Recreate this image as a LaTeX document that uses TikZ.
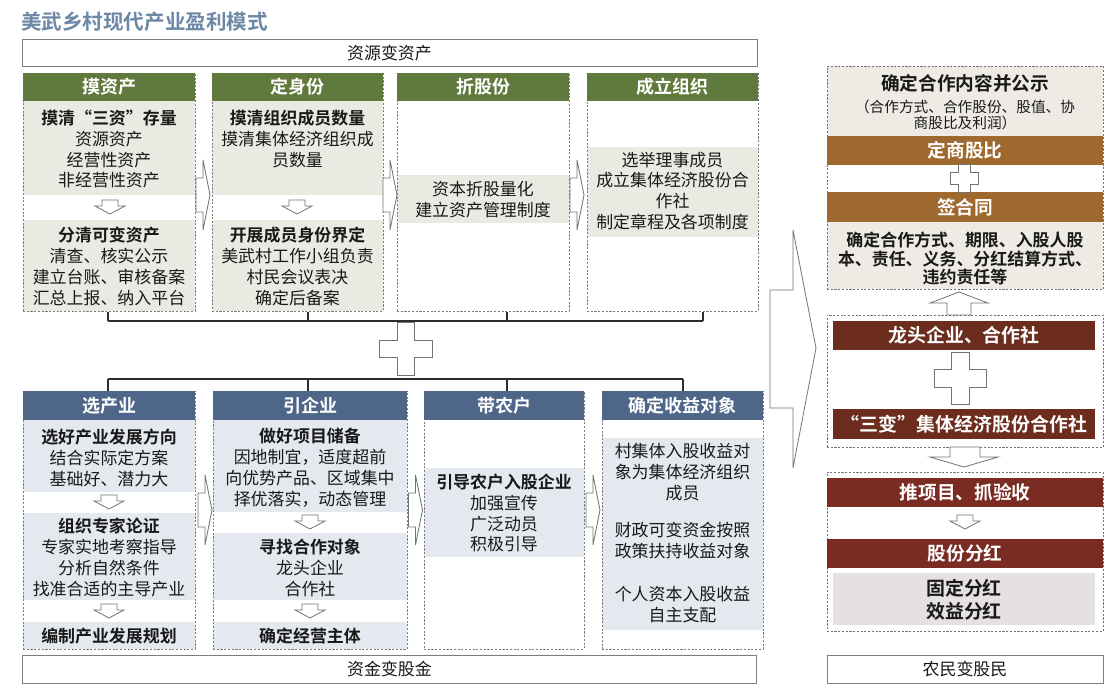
\documentclass[tikz,border=0pt]{standalone}
\usepackage{fontspec}
\setmainfont{Noto Sans CJK SC}[BoldFont={Noto Sans CJK SC Bold}]
\usetikzlibrary{positioning}
\usepackage{xcolor}
\definecolor{hdgreen}{RGB}{96,121,60}
\definecolor{hdblue}{RGB}{78,103,136}
\definecolor{bandgreen}{RGB}{233,235,226}
\definecolor{bandblue}{RGB}{228,232,239}
\definecolor{barbrown}{RGB}{158,104,46}
\definecolor{bardark}{RGB}{108,44,30}
\definecolor{barred}{RGB}{122,44,34}
\definecolor{beige}{RGB}{238,235,228}
\definecolor{graypink}{RGB}{229,225,224}
\definecolor{titleblue}{RGB}{108,136,165}
\definecolor{linegray}{RGB}{125,125,125}
\definecolor{arrgray}{RGB}{115,115,115}
\definecolor{brkgray}{RGB}{45,45,45}
\definecolor{textdark}{RGB}{25,25,25}
\newlength\pxu
\setlength\pxu{0.75pt}
\newcommand\bodyfont{\fontsize{12.7}{15.7}\selectfont}
\newcommand\hdrfont{\fontsize{13.5}{15}\selectfont\bfseries}
\newcommand\barfont{\fontsize{14}{16}\selectfont\bfseries}
% small outlined arrows and crosses
\newcommand\rarr[2]{\begin{scope}[shift={(#1,#2)}]
  \draw[outline] (-7,-17) -- (0,-17) -- (0,-35) -- (7,0) -- (0,35) -- (0,17) -- (-7,17) -- cycle;
\end{scope}}
\newcommand\darr[2]{\begin{scope}[shift={(#1,#2)}]
  \draw[outline] (-8,-7) -- (8,-7) -- (8,-1) -- (15,-1) -- (0,7) -- (-15,-1) -- (-8,-1) -- cycle;
\end{scope}}
\newcommand\plusshape[4]{\begin{scope}[shift={(#1,#2)}]
  \draw[outline] (-#4,-#3) -- (#4,-#3) -- (#4,-#4) -- (#3,-#4) -- (#3,#4) -- (#4,#4) -- (#4,#3)
    -- (-#4,#3) -- (-#4,#4) -- (-#3,#4) -- (-#3,-#4) -- (-#4,-#4) -- cycle;
\end{scope}}

\begin{document}
\begin{tikzpicture}[x=0.75pt, y=-0.75pt,
  txt/.style={font=\bodyfont, align=center, text=textdark, inner sep=0pt},
  hdr/.style={font=\hdrfont, text=white, inner sep=0pt, minimum height=28\pxu},
  barbox/.style={font=\barfont, text=white, inner sep=0pt, minimum height=29\pxu},
  colframe/.style={draw=linegray, dash pattern=on 1.6pt off 1.2pt, line width=0.75pt, inner sep=0pt},
  banner/.style={draw=linegray, line width=0.6pt, fill=white, inner sep=0pt, minimum height=27\pxu, font=\bodyfont, text=textdark},
  outline/.style={draw=arrgray, line width=0.6pt, fill=white},
  brk/.style={draw=brkgray, line width=0.9pt}
]
\useasboundingbox (0,0) rectangle (1108,694);
\fill[white] (0,0) rectangle (1108,694);

\node[anchor=west, inner sep=0pt, font=\fontsize{15.4}{17}\selectfont\bfseries, text=titleblue] (title) at (21,22) {美武乡村现代产业盈利模式};

% ---- 资源变资产 ----
\node[banner, minimum width=735\pxu] (topban) at (389.5,53) {资源变资产};

\fill[bandgreen] (23,101) rectangle (195,195);
\fill[bandgreen] (23,220) rectangle (195,311);
\fill[bandgreen] (212,101) rectangle (383,195);
\fill[bandgreen] (212,220) rectangle (383,311);
\fill[bandgreen] (397,175) rectangle (569,223);
\fill[bandgreen] (587,147) rectangle (758,237);

\node[colframe, minimum width=172\pxu, minimum height=238\pxu] (tc1) at (109,192) {};
\node[colframe, minimum width=171\pxu, minimum height=238\pxu] (tc2) at (297.5,192) {};
\node[colframe, minimum width=172\pxu, minimum height=238\pxu] (tc3) at (483,192) {};
\node[colframe, minimum width=171\pxu, minimum height=238\pxu] (tc4) at (672.5,192) {};

\node[hdr, fill=hdgreen, minimum width=172\pxu] (th1) at (109,87) {摸资产};
\node[hdr, fill=hdgreen, minimum width=171\pxu] (th2) at (297.5,87) {定身份};
\node[hdr, fill=hdgreen, minimum width=172\pxu] (th3) at (483,87) {折股份};
\node[hdr, fill=hdgreen, minimum width=171\pxu] (th4) at (672.5,87) {成立组织};

\node[txt] (ta1) at (109,149) {\textbf{摸清“三资”存量}\\资源资产\\经营性资产\\非经营性资产};
\node[txt] (tb1) at (109,266.5) {\textbf{分清可变资产}\\清查、核实公示\\建立台账、审核备案\\汇总上报、纳入平台};
\node[txt] (ta2) at (297.5,139) {\textbf{摸清组织成员数量}\\摸清集体经济组织成\\员数量};
\node[txt] (tb2) at (297.5,266.5) {\textbf{开展成员身份界定}\\美武村工作小组负责\\村民会议表决\\确定后备案};
\node[txt] (ta3) at (483,200) {资本折股量化\\建立资产管理制度};
\node[txt] (ta4) at (672.5,191) {选举理事成员\\成立集体经济股份合\\作社\\制定章程及各项制度};

\darr{110}{207}
\darr{297}{207}
\rarr{203}{195}
\rarr{390}{195}
\rarr{577}{195}

% brackets and cross
\coordinate (tk1) at (108,321);
\coordinate (tk2) at (308,321);
\coordinate (tk3) at (507,321);
\coordinate (tk4) at (703,321);
\coordinate (bk1) at (108,379);
\coordinate (bk2) at (308,379);
\coordinate (bk3) at (507,379);
\coordinate (bk4) at (683,379);
\draw[brk] (tk1) -- (tk4);
\draw[brk] (bk1) -- (bk4);
\foreach \i in {1,...,4} {
  \draw[brk] (tk\i |- tc\i.south) -- (tk\i);
  \draw[brk] (bk\i) -- (bk\i |- 0,391);
}
\plusshape{405.5}{349}{26.5}{8.5}

% ---- 资金变股金 ----
\fill[bandblue] (23,420) rectangle (195,492);
\fill[bandblue] (23,513) rectangle (195,600);
\fill[bandblue] (23,622) rectangle (195,649);
\fill[bandblue] (213,420) rectangle (407,512);
\fill[bandblue] (213,533) rectangle (407,600);
\fill[bandblue] (213,622) rectangle (407,649);
\fill[bandblue] (424,468) rectangle (584,557);
\fill[bandblue] (602,438) rectangle (763,630);

\node[colframe, minimum width=172\pxu, minimum height=258\pxu] (bc1) at (109,520) {};
\node[colframe, minimum width=194\pxu, minimum height=258\pxu] (bc2) at (310,520) {};
\node[colframe, minimum width=160\pxu, minimum height=258\pxu] (bc3) at (504,520) {};
\node[colframe, minimum width=161\pxu, minimum height=258\pxu] (bc4) at (682.5,520) {};

\node[hdr, fill=hdblue, minimum width=172\pxu, minimum height=29\pxu] (bh1) at (109,405.5) {选产业};
\node[hdr, fill=hdblue, minimum width=194\pxu, minimum height=29\pxu] (bh2) at (310,405.5) {引企业};
\node[hdr, fill=hdblue, minimum width=160\pxu, minimum height=29\pxu] (bh3) at (504,405.5) {带农户};
\node[hdr, fill=hdblue, minimum width=161\pxu, minimum height=29\pxu] (bh4) at (682.5,405.5) {确定收益对象};

\node[txt] (ba1) at (109,458) {\textbf{选好产业发展方向}\\结合实际定方案\\基础好、潜力大};
\node[txt] (bb1) at (109,557.5) {\textbf{组织专家论证}\\专家实地考察指导\\分析自然条件\\找准合适的主导产业};
\node[txt] (bd1) at (109,636) {\textbf{编制产业发展规划}};
\node[txt] (ba2) at (310,467.5) {\textbf{做好项目储备}\\因地制宜，适度超前\\向优势产品、区域集中\\择优落实，动态管理};
\node[txt] (bb2) at (310,568) {\textbf{寻找合作对象}\\龙头企业\\合作社};
\node[txt] (bd2) at (310,636) {\textbf{确定经营主体}};
\node[txt] (ba3) at (504,513) {\textbf{引导农户入股企业}\\加强宣传\\广泛动员\\积极引导};
\node[txt] (ba4) at (682.5,472.5) {村集体入股收益对\\象为集体经济组织\\成员};
\node[txt] (bb4) at (682.5,540.5) {财政可变资金按照\\政策扶持收益对象};
\node[txt] (bd4) at (682.5,605) {个人资本入股收益\\自主支配};

\darr{109}{502}
\darr{109}{611}
\darr{310}{522}
\darr{310}{611}
\rarr{205}{510}
\rarr{415.5}{510}
\rarr{593}{510}

\node[banner, minimum width=734\pxu, minimum height=28\pxu] (botban) at (389.5,669) {资金变股金};

% big arrow to the right column
\draw[outline] (770,290) -- (793,290) -- (793,230) -- (816,348) -- (793,468) -- (793,408) -- (770,408) -- cycle;

% ---- right column ----
\fill[beige] (827,66) rectangle (1103,136);
\fill[beige] (827,222) rectangle (1103,289);
\node[colframe, draw=arrgray, minimum width=276\pxu, minimum height=223\pxu] (rp1) at (965,177.5) {};
\node[barbox, fill=barbrown, minimum width=276\pxu] (share) at (965,150.5) {定商股比};
\node[barbox, fill=barbrown, minimum width=276\pxu, minimum height=30\pxu] (sign) at (965,207) {签合同};
\plusshape{964}{178.5}{14}{6}
\node[txt, font=\barfont] (coop) at (965,83) {确定合作内容并公示};
\node[txt, font=\fontsize{11}{12}\selectfont] (coopnote) at (965,115) {（合作方式、合作股份、股值、协\\商股比及利润）};
\node[txt, font=\fontsize{12.7}{14}\selectfont\bfseries] (signnote) at (965,258.5) {确定合作方式、期限、入股人股\\本、责任、义务、分红结算方式、\\违约责任等};

\draw[outline] (959,292) -- (988,303) -- (971,303) -- (971,315) -- (947,315) -- (947,303) -- (930,303) -- cycle;

\node[colframe, draw=arrgray, minimum width=276\pxu, minimum height=132\pxu] (rp2) at (965,381) {};
\node[barbox, fill=bardark, font=\fontsize{14.2}{16}\selectfont\bfseries, minimum width=262\pxu] (lead) at (964,335.5) {龙头企业、合作社};
\plusshape{960}{378}{26}{9}
\node[barbox, fill=bardark, font=\fontsize{14.2}{16}\selectfont\bfseries, minimum width=262\pxu, minimum height=30\pxu] (sanbian) at (964,424) {“三变”集体经济股份合作社};

\draw[outline] (950,447) -- (980,447) -- (980,457) -- (998,457) -- (964,467) -- (930,457) -- (950,457) -- cycle;

\node[colframe, draw=arrgray, minimum width=276\pxu, minimum height=159\pxu] (rp3) at (965,551.5) {};
\node[barbox, fill=barred, minimum width=276\pxu] (proj) at (965,492.5) {推项目、抓验收};
\darr{965}{522}
\node[barbox, fill=barred, minimum width=276\pxu] (bonus) at (965,553.5) {股份分红};
\node[fill=graypink, inner sep=0pt, minimum width=262\pxu, minimum height=52\pxu] (bonusbox) at (964,599) {};
\node[txt, font=\fontsize{14.2}{17}\selectfont\bfseries] (bonustxt) at (964,599.5) {固定分红\\效益分红};

\node[banner, minimum width=276\pxu, minimum height=28\pxu] (farmban) at (965,669) {农民变股民};
\end{tikzpicture}
\end{document}
